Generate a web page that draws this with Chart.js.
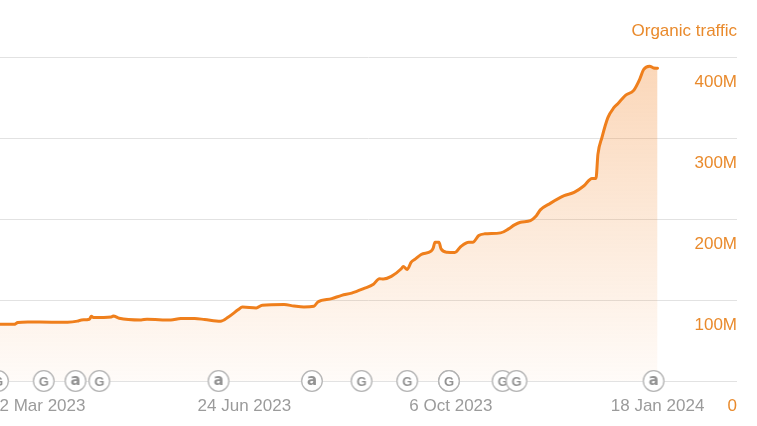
<!DOCTYPE html>
<html>
<head>
<meta charset="utf-8">
<script src="https://cdn.jsdelivr.net/npm/chart.js@4/dist/chart.umd.min.js"></script>
<style>
  html, body { margin: 0; padding: 0; background: #ffffff; }
  #wrap { width: 757px; height: 426px; position: relative; }
</style>
</head>
<body>
<div id="wrap"><canvas id="c"></canvas></div>
<script>
// ---- Data (organic traffic, millions) ----
const dates = [
  '2023-02-21','2023-02-28','2023-03-02','2023-03-07','2023-03-19','2023-03-27','2023-04-01','2023-04-03',
  '2023-04-07','2023-04-08','2023-04-09','2023-04-18','2023-04-19','2023-04-22','2023-05-03','2023-05-06',
  '2023-05-18','2023-05-23','2023-05-30','2023-06-04','2023-06-12','2023-06-16','2023-06-21','2023-06-23',
  '2023-06-30','2023-07-03','2023-07-14','2023-07-19','2023-07-24','2023-07-29','2023-07-31','2023-08-07',
  '2023-08-12','2023-08-17','2023-08-23','2023-08-28','2023-08-31','2023-09-02','2023-09-06','2023-09-11',
  '2023-09-12','2023-09-14','2023-09-16','2023-09-18','2023-09-21','2023-09-26','2023-09-27','2023-09-28',
  '2023-09-30','2023-10-01','2023-10-04','2023-10-08','2023-10-11','2023-10-15','2023-10-17','2023-10-20',
  '2023-10-23','2023-10-31','2023-11-04','2023-11-07','2023-11-10','2023-11-15','2023-11-18','2023-11-20',
  '2023-11-25','2023-12-02','2023-12-07','2023-12-12','2023-12-16','2023-12-18','2023-12-19','2023-12-21',
  '2023-12-24','2023-12-27','2023-12-29','2023-12-31','2024-01-02','2024-01-06','2024-01-09','2024-01-11',
  '2024-01-14','2024-01-16','2024-01-18'
];
const traffic = [
  70, 70, 72.3, 73, 72.7, 72.7, 74, 75.5,
  76.4, 80, 78.4, 79.2, 80.4, 77.6, 75.5, 76.4,
  75.3, 77.2, 77.2, 76, 73.9, 79.2, 88.3, 91.5,
  90.3, 93.6, 94.5, 92.7, 91.5, 92.4, 97.7, 101.8,
  105.9, 108.7, 114.2, 119.5, 126.5, 126, 129.3, 138.8,
  141.6, 137.9, 146.9, 150.6, 156.4, 160.5, 163.8, 171.5,
  171.5, 163.4, 159.2, 158.9, 166.3, 171.5, 171.5, 179.8,
  181.9, 183.1, 188, 193, 196.2, 198.3, 204.4, 211.5,
  219.6, 229, 233.1, 241.4, 250.4, 250.4, 280.4, 300.9,
  325.5, 337.8, 342.7, 348.2, 353.4, 359.2, 372.8, 385,
  389.2, 387, 386.7
];
// Annotation markers on the baseline (G = Google update, a = Ahrefs update)
const annotationDates = [
  '2023-02-20','2023-03-15','2023-03-31','2023-04-12','2023-06-11','2023-07-28',
  '2023-08-22','2023-09-14','2023-10-05','2023-10-05','2023-11-01','2023-11-08','2024-01-16'
];
const annotationTypes = ['G','G','a','G','a','a','G','G','G','G','G','G','a'];

const xTickDates = ['2023-03-12','2023-06-24','2023-10-06','2024-01-18'];
const xTickLabels = ['12 Mar 2023','24 Jun 2023','6 Oct 2023','18 Jan 2024'];
const yTickValues = [0, 100, 200, 300, 400];
const xRange = ['2023-02-21','2024-02-27'];

// ---- helpers ----
const EPOCH = Date.parse('2023-03-12T00:00:00Z');
const toDay = s => (Date.parse(s + 'T00:00:00Z') - EPOCH) / 864e5;

function makeIcon(letter) {
  const size = 24;
  const cv = document.createElement('canvas');
  cv.width = size; cv.height = size;
  const c = cv.getContext('2d');
  c.beginPath();
  c.arc(size / 2, size / 2, 10.3, 0, Math.PI * 2);
  c.fillStyle = '#ffffff';
  c.fill();
  c.lineWidth = 1.3;
  c.strokeStyle = '#b4b4b4';
  c.stroke();
  c.fillStyle = '#939393';
  c.textAlign = 'center';
  c.textBaseline = 'middle';
  if (letter === 'G') {
    c.font = 'bold 13px "Liberation Sans", Arial, sans-serif';
    c.fillText('G', size / 2, size / 2 + 1);
  } else {
    c.font = '600 15px "DejaVu Sans", "Liberation Sans", sans-serif';
    c.fillText('a', size / 2, size / 2);
  }
  return cv;
}
const icons = { G: makeIcon('G'), a: makeIcon('a') };

const lineData = dates.map((d, i) => ({ x: toDay(d), y: traffic[i] }));
const annData = annotationDates.map(d => ({ x: toDay(d), y: 0 }));

const ORANGE = '#ef7f1c';
const LABEL_ORANGE = '#e98a2c';

new Chart(document.getElementById('c'), {
  type: 'line',
  data: {
    datasets: [
      {
        label: 'annotations',
        data: annData,
        showLine: false,
        order: 0,
        clip: false,
        pointStyle: ctx => icons[annotationTypes[ctx.dataIndex]],
        pointRadius: 11,
        pointHoverRadius: 11
      },
      {
        label: 'Organic traffic',
        data: lineData,
        order: 1,
        borderColor: ORANGE,
        borderWidth: 3,
        borderJoinStyle: 'round',
        borderCapStyle: 'round',
        pointRadius: 0,
        cubicInterpolationMode: 'monotone',
        fill: 'origin',
        backgroundColor: ctx => {
          const { chart } = ctx;
          const area = chart.chartArea;
          if (!area) return 'rgba(246,150,70,0.2)';
          const g = chart.ctx.createLinearGradient(0, area.top, 0, area.bottom);
          g.addColorStop(0, 'rgba(242,135,45,0.34)');
          g.addColorStop(1, 'rgba(242,135,45,0.03)');
          return g;
        }
      }
    ]
  },
  options: {
    responsive: true,
    maintainAspectRatio: false,
    animation: false,
    layout: { autoPadding: false, padding: { left: 0, right: 20, top: 0, bottom: 0 } },
    plugins: {
      legend: { display: false },
      tooltip: { enabled: false },
      title: {
        display: true,
        text: 'Organic traffic',
        align: 'end',
        color: LABEL_ORANGE,
        font: { family: '"Liberation Sans", Arial, sans-serif', size: 17, weight: 'normal' },
        padding: { top: 21, bottom: 16 }
      }
    },
    scales: {
      x: {
        type: 'linear',
        min: toDay(xRange[0]),
        max: toDay(xRange[1]),
        grid: { display: false, drawTicks: true, tickLength: 5 },
        border: { display: false },
        afterBuildTicks: s => { s.ticks = xTickDates.map(d => ({ value: toDay(d) })); },
        afterFit: s => { s.paddingLeft = 0; s.paddingRight = 0; },
        ticks: {
          autoSkip: false,
          maxRotation: 0,
          padding: 9.8,
          color: '#9b9b9b',
          font: { family: '"Liberation Sans", Arial, sans-serif', size: 17 },
          callback: (v, i) => xTickLabels[i]
        }
      },
      y: {
        position: 'right',
        min: 0,
        max: 400,
        afterBuildTicks: s => { s.ticks = yTickValues.map(v => ({ value: v })); },
        afterFit: s => { s.paddingTop = 0; s.paddingBottom = 0; },
        grid: { color: '#e2e2e2', lineWidth: 1, drawTicks: false },
        border: { display: false },
        ticks: {
          mirror: true,
          padding: 0,
          labelOffset: 25,
          color: LABEL_ORANGE,
          font: { family: '"Liberation Sans", Arial, sans-serif', size: 17 },
          callback: v => (v === 0 ? '0' : v + 'M')
        }
      }
    }
  }
});
</script>
</body>
</html>
